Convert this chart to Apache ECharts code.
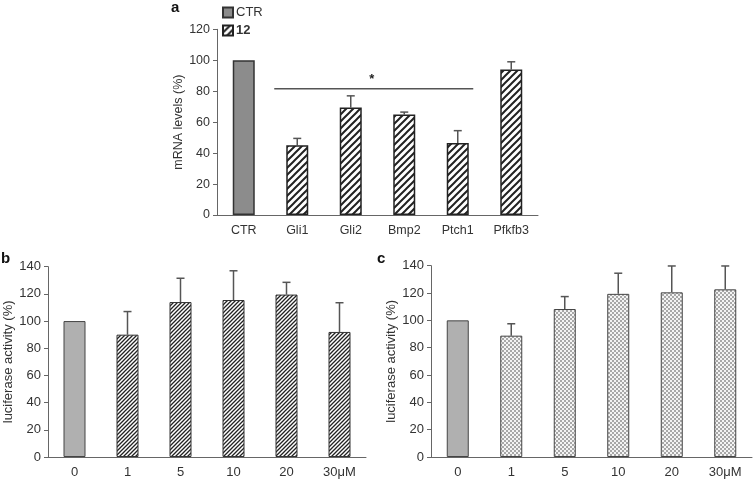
<!DOCTYPE html>
<html>
<head>
<meta charset="utf-8">
<script src="https://cdn.jsdelivr.net/npm/echarts@6/dist/echarts.min.js"></script>
<style>
  html, body { margin: 0; padding: 0; background: #fff; }
  #chart { width: 753px; height: 479px; }
</style>
</head>
<body>
<div id="chart"></div>
<script>
// panel a : mRNA levels
const catsA = ['CTR', 'Gli1', 'Gli2', 'Bmp2', 'Ptch1', 'Pfkfb3'];
const ctrA = [100, '-', '-', '-', '-', '-'];
const treatedA = ['-', 45, 69.5, 65, 46.5, 94];
const errA = [0, 4.5, 7.5, 1.5, 8, 5];
const sigLevel = 81.6;

// panel b and c : luciferase activity
const catsBC = ['0', '1', '5', '10', '20', '30\u03bcM'];
const valuesB = [100, 90, 114, 115.5, 119.5, 92];
const errB = [0, 17, 17.5, 21.5, 9, 21.5];
const valuesC = [100, 88.8, 108.3, 119.4, 120.5, 122.7];
const errC = [0, 8.7, 9.1, 15.1, 19.3, 17.1];

const font = 'Liberation Sans, Arial, sans-serif';
const textCol = '#333';
const axisCol = '#666';

// pattern canvases
function hatch(size, width, color) {
  const c = document.createElement('canvas');
  c.width = size; c.height = size;
  const g = c.getContext('2d');
  g.fillStyle = '#fff'; g.fillRect(0, 0, size, size);
  g.strokeStyle = color; g.lineWidth = width;
  g.beginPath();
  g.moveTo(0, size); g.lineTo(size, 0);
  g.moveTo(-size / 2, size / 2); g.lineTo(size / 2, -size / 2);
  g.moveTo(size / 2, size * 1.5); g.lineTo(size * 1.5, size / 2);
  g.stroke();
  return { image: c, repeat: 'repeat' };
}
function checker() {
  const c = document.createElement('canvas');
  c.width = 4; c.height = 4;
  const g = c.getContext('2d');
  g.fillStyle = '#f4f4f4'; g.fillRect(0, 0, 4, 4);
  g.fillStyle = '#a8a8a8';
  g.fillRect(0, 0, 2, 2); g.fillRect(2, 2, 2, 2);
  return { image: c, repeat: 'repeat' };
}
const wideHatch = hatch(7, 2, '#222');
const fineHatch = hatch(4, 1.3, '#222');
const dots = checker();

function errorSeries(idx, values, errs) {
  return {
    type: 'custom',
    xAxisIndex: idx, yAxisIndex: idx,
    silent: true, z: 1,
    data: values.map((v, i) => [i, v, v + errs[i]]).filter((d, i) => errs[i] > 0),
    renderItem: function (params, api) {
      const base = api.coord([api.value(0), api.value(1)]);
      const top = api.coord([api.value(0), api.value(2)]);
      const cap = 4;
      const st = { stroke: '#555', lineWidth: 1.5 };
      return {
        type: 'group',
        children: [
          { type: 'line', shape: { x1: base[0], y1: base[1], x2: top[0], y2: top[1] }, style: st },
          { type: 'line', shape: { x1: top[0] - cap, y1: top[1], x2: top[0] + cap, y2: top[1] }, style: st }
        ]
      };
    }
  };
}

function xAxisOf(idx, cats, fs) {
  return {
    type: 'category', gridIndex: idx, data: cats, boundaryGap: true,
    axisLine: { lineStyle: { color: axisCol, width: 1 } },
    axisTick: { length: 4, lineStyle: { color: axisCol } },
    axisLabel: { color: textCol, fontSize: fs, fontFamily: font, margin: 9, interval: 0 }
  };
}
function yAxisOf(idx, max, name, fs, gap) {
  return {
    type: 'value', gridIndex: idx, min: 0, max: max, interval: 20,
    name: name, nameLocation: 'middle', nameGap: gap, nameRotate: 90,
    nameTextStyle: { color: textCol, fontSize: fs, fontFamily: font },
    splitLine: { show: false },
    axisLine: { show: true, lineStyle: { color: axisCol, width: 1 } },
    axisTick: { show: true, length: 4, lineStyle: { color: axisCol } },
    axisLabel: { color: textCol, fontSize: fs, fontFamily: font, margin: 7 }
  };
}

const chart = echarts.init(document.getElementById('chart'), null, { renderer: 'canvas' });

const option = {
  animation: false,
  backgroundColor: '#fff',
  grid: [
    { left: 217, top: 29.3, width: 321, height: 185.7 },
    { left: 48, top: 266.7, width: 318, height: 193.3 },
    { left: 431, top: 265.7, width: 321, height: 194.3 }
  ],
  legend: {
    orient: 'vertical', left: 217, top: 1,
    icon: 'rect',
    itemWidth: 10, itemHeight: 10, itemGap: 5,
    textStyle: { color: textCol, fontSize: 13, fontFamily: font, padding: [0, 0, 0, -2] },
    data: [{ name: 'CTR' }, { name: '12', textStyle: { fontWeight: 'bold' } }]
  },
  xAxis: [xAxisOf(0, catsA, 12.5), xAxisOf(1, catsBC, 13), xAxisOf(2, catsBC, 13)],
  yAxis: [
    yAxisOf(0, 120, 'mRNA levels (%)', 12.5, 31),
    yAxisOf(1, 140, 'luciferase activity (%)', 13, 31),
    yAxisOf(2, 140, 'luciferase activity (%)', 13, 30)
  ],
  graphic: [
    { type: 'text', left: 171, top: 0, style: { text: 'a', font: 'bold 15px ' + font, fill: '#111' } },
    { type: 'text', left: 1, top: 251, style: { text: 'b', font: 'bold 15px ' + font, fill: '#111' } },
    { type: 'text', left: 377, top: 251, style: { text: 'c', font: 'bold 15px ' + font, fill: '#111' } }
  ],
  series: [
    {
      name: 'CTR', type: 'bar', xAxisIndex: 0, yAxisIndex: 0,
      data: ctrA, barWidth: 22, barGap: '-100%', z: 2,
      itemStyle: { color: '#8c8c8c', borderColor: '#333', borderWidth: 1.5 }
    },
    {
      name: '12', type: 'bar', xAxisIndex: 0, yAxisIndex: 0,
      data: treatedA, barWidth: 22, z: 2,
      itemStyle: { color: wideHatch, borderColor: '#222', borderWidth: 1.5 }
    },
    errorSeries(0, catsA.map((c, i) => i === 0 ? ctrA[0] : treatedA[i]), errA),
    {
      // significance bar and star over Gli1..Ptch1
      type: 'custom', xAxisIndex: 0, yAxisIndex: 0, silent: true,
      data: [[1, 4, sigLevel]],
      renderItem: function (params, api) {
        const band = api.size([1, 0])[0];
        const a = api.coord([api.value(0), api.value(2)]);
        const b = api.coord([api.value(1), api.value(2)]);
        const x1 = a[0] - 0.43 * band, x2 = b[0] + 0.29 * band;
        return {
          type: 'group',
          children: [
            { type: 'line', shape: { x1: x1, y1: a[1], x2: x2, y2: a[1] }, style: { stroke: '#555', lineWidth: 1.5 } },
            { type: 'text', style: { text: '*', x: (x1 + x2) / 2 - 2, y: a[1] - 3, font: 'bold 13px ' + font, fill: '#222', align: 'center', verticalAlign: 'bottom' } }
          ]
        };
      }
    },
    {
      type: 'bar', xAxisIndex: 1, yAxisIndex: 1, barWidth: 22, z: 2,
      data: valuesB.map((v, i) => ({
        value: v,
        itemStyle: i === 0
          ? { color: '#b0b0b0', borderColor: '#444', borderWidth: 1 }
          : { color: fineHatch, borderColor: '#333', borderWidth: 1 }
      }))
    },
    errorSeries(1, valuesB, errB),
    {
      type: 'bar', xAxisIndex: 2, yAxisIndex: 2, barWidth: 22, z: 2,
      data: valuesC.map((v, i) => ({
        value: v,
        itemStyle: i === 0
          ? { color: '#b0b0b0', borderColor: '#444', borderWidth: 1 }
          : { color: dots, borderColor: '#444', borderWidth: 1 }
      }))
    },
    errorSeries(2, valuesC, errC)
  ]
};

chart.setOption(option);
</script>
</body>
</html>
